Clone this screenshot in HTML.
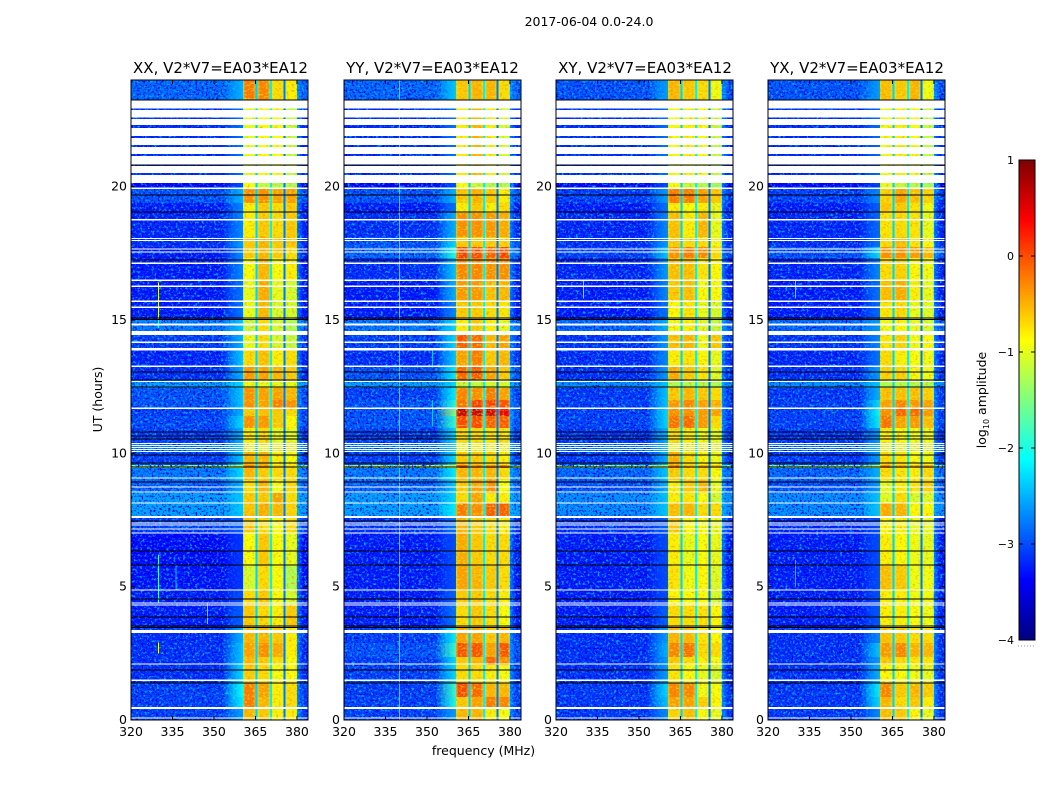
<!DOCTYPE html>
<html lang="en">
<head>
<meta charset="utf-8">
<title>2017-06-04 0.0-24.0</title>
<style>
  html, body { margin: 0; padding: 0; background: #fff; }
  svg { display: block; font-family: "DejaVu Sans", "Liberation Sans", sans-serif; }
  text { fill: #000; }
</style>
</head>
<body>
<svg id="chart" xmlns="http://www.w3.org/2000/svg" width="1050" height="800" viewBox="0 0 1050 800">
  <defs>
    <filter id="grain" x="0" y="0" width="100%" height="100%" color-interpolation-filters="sRGB">
      <feTurbulence type="fractalNoise" baseFrequency="0.42" numOctaves="2" seed="7"/>
      <feColorMatrix type="matrix" values="0 0 0 0 0  0 0 0 0 0.68  0 0 0 0 1  4.2 0 0 0 -2.1"/>
    </filter>
    <filter id="grain-dark" x="0" y="0" width="100%" height="100%" color-interpolation-filters="sRGB">
      <feTurbulence type="fractalNoise" baseFrequency="0.48" numOctaves="2" seed="23"/>
      <feColorMatrix type="matrix" values="0 0 0 0 0  0 0 0 0 0  0 0 0 0 0.85  4 0 0 0 -2.05"/>
    </filter>
    <filter id="band-grain-warm" x="0" y="0" width="100%" height="100%" color-interpolation-filters="sRGB">
      <feTurbulence type="fractalNoise" baseFrequency="0.38 0.52" numOctaves="2" seed="41"/>
      <feColorMatrix type="matrix" values="0 0 0 0 1  0 0 0 0 0.55  0 0 0 0 0  2.6 0 0 0 -1.38"/>
    </filter>
    <filter id="band-grain-cool" x="0" y="0" width="100%" height="100%" color-interpolation-filters="sRGB">
      <feTurbulence type="fractalNoise" baseFrequency="0.38 0.52" numOctaves="2" seed="59"/>
      <feColorMatrix type="matrix" values="0 0 0 0 0.8  0 0 0 0 1  0 0 0 0 0.2  2.6 0 0 0 -1.38"/>
    </filter>
    <linearGradient id="band-edge" x1="0" x2="1" y1="0" y2="0">
      <stop offset="0" stop-color="#aaff5a" stop-opacity="0.6"/>
      <stop offset="0.18" stop-color="#d8ff40" stop-opacity="0"/>
      <stop offset="0.82" stop-color="#d8ff40" stop-opacity="0"/>
      <stop offset="1" stop-color="#aaff5a" stop-opacity="0.5"/>
    </linearGradient>
    <linearGradient id="post-edge" x1="0" x2="1" y1="0" y2="0">
      <stop offset="0" stop-color="#00c8ff" stop-opacity="0.55"/>
      <stop offset="1" stop-color="#00c8ff" stop-opacity="0"/>
    </linearGradient>
    <linearGradient id="shoulder-fade" x1="0" x2="1" y1="0" y2="0">
      <stop offset="0" stop-color="#000"/>
      <stop offset="0.5" stop-color="#999"/>
      <stop offset="1" stop-color="#fff"/>
    </linearGradient>
    <mask id="shoulder-mask" maskContentUnits="objectBoundingBox" x="0" y="0" width="1" height="1">
      <rect x="0" y="0" width="1" height="1" fill="url(#shoulder-fade)"/>
    </mask>
  </defs>
  <rect x="0" y="0" width="1050" height="800" fill="#fff"/>
  <text x="589" y="26" font-size="12.5" text-anchor="middle">2017-06-04 0.0-24.0</text>

  <g id="panel-0"></g>
  <g id="panel-1"></g>
  <g id="panel-2"></g>
  <g id="panel-3"></g>

  <text x="220.5" y="73" font-size="15" text-anchor="middle">XX, V2*V7=EA03*EA12</text>
  <text x="432.5" y="73" font-size="15" text-anchor="middle">YY, V2*V7=EA03*EA12</text>
  <text x="645" y="73" font-size="15" text-anchor="middle">XY, V2*V7=EA03*EA12</text>
  <text x="857" y="73" font-size="15" text-anchor="middle">YX, V2*V7=EA03*EA12</text>

  <text transform="translate(102 399.5) rotate(-90)" font-size="12.5" text-anchor="middle">UT (hours)</text>
  <text x="483.5" y="755" font-size="12.5" text-anchor="middle">frequency (MHz)</text>

  <g id="colorbar"></g>
  <text transform="translate(986 400) rotate(-90)" font-size="12.5" text-anchor="middle">log<tspan font-size="8" dy="3">10</tspan><tspan dy="-3"> amplitude</tspan></text>
</svg>

<script>
// Panel axis limits and tick data
const xDomain = [320, 384];
const yDomain = [0, 24];
const xTicks = [320, 335, 350, 365, 380];
const yTicks = [0, 5, 10, 15, 20];
const colorDomain = [-4, 1];
const colorbarTicks = [1, 0, -1, -2, -3, -4];
const colorbarLabels = ['1', '0', '\u22121', '\u22122', '\u22123', '\u22124'];

// Frequency columns: off-band, band 1, gap, band 2, gap, band 3, gap, band 4, upper off-band
const freqEdges = [320, 360.5, 364.95, 365.75, 370.3, 371, 375.1, 375.9, 380, 384];
const shoulderStart = 353;
const gapLevels = [-2.35, -2.2, -2.8];
const offBandCalibration = -0.17;

// Time rows, top to bottom (hours)
const hourEdges = [24, 23.25, 20.14, 19.95, 19.39, 19.01, 18.11, 17.74, 17.33, 16.5, 15.75, 15, 14.44, 13.95, 13.28, 12.75, 12.45, 12, 11.7, 11.4, 10.95, 10.39, 10.05, 9.56, 9.45, 9, 8.51, 8.14, 7.58, 7.01, 5.78, 4.88, 4.31, 3.49, 2.89, 2.36, 2.06, 1.39, 0.86, 0.45, 0];

// log10 amplitude per row: [off-band, shoulder, band1, band2, band3, band4]
const valuesXX = [
  [-2.7,-2.5,-0.2,-0.25,-0.7,-0.8],[-3,-2.8,-1,-0.9,-0.9,-1.2],[-3.2,-3,-0.9,-1.2,-1.3,-1.3],[-2.8,-2.5,-0.3,-0.3,-0.4,-0.4],
  [-3.1,-2.7,-0.8,-0.6,-0.7,-0.6],[-3.05,-2.7,-0.8,-0.6,-0.7,-0.6],[-3,-2.6,-0.6,-0.5,-0.6,-0.6],[-3.1,-2.7,-0.6,-0.5,-0.6,-0.7],
  [-3.1,-2.7,-0.9,-0.5,-0.9,-0.8],[-3.1,-2.8,-1,-0.45,-1,-1.1],[-3.1,-2.8,-1,-0.5,-1.1,-1.1],[-2.6,-2.4,-1.2,-0.7,-1.1,-1.3],
  [-2.9,-2.5,-1,-0.7,-1.1,-1.2],[-3.05,-2.4,-0.7,-0.55,-0.8,-0.7],[-3,-2.5,-0.35,-0.4,-0.5,-0.6],[-2.4,-2.3,-1,-1,-1,-1],
  [-2.8,-2.4,-0.3,-0.4,-0.4,-0.5],[-2.8,-2.4,-0.3,-0.4,-0.2,-0.3],[-2.9,-2.5,-0.6,-0.55,-0.6,-0.7],[-2.85,-2.3,-0.3,-0.35,-0.6,-0.85],
  [-2.9,-2.5,-0.8,-0.7,-1,-1],[-2.5,-2.3,-1,-1,-1,-1],[-2.9,-2.4,-0.5,-0.5,-0.8,-0.9],[-1.2,-1.2,-0.2,-0.3,-0.6,-0.7],
  [-2.6,-2.3,-0.5,-0.6,-0.7,-0.7],[-2.7,-2.5,-0.7,-0.5,-0.9,-0.7],[-2.4,-2.4,-0.6,-0.6,-0.4,-0.7],[-2.4,-2.4,-0.55,-0.45,-0.5,-0.65],
  [-2.9,-2.9,-0.6,-0.7,-0.9,-0.7],[-3.2,-3.1,-0.9,-0.6,-0.9,-1],[-3.15,-3.1,-1.1,-0.7,-0.9,-1.3],[-3.1,-3,-0.7,-0.6,-0.9,-1.1],
  [-3.1,-2.9,-0.6,-0.7,-0.8,-0.6],[-3,-2.5,-0.5,-0.5,-0.6,-0.8],[-3,-2.4,-0.4,-0.3,-0.45,-0.8],[-3,-2.4,-0.5,-0.6,-0.7,-0.9],
  [-3,-2.3,-0.6,-0.7,-0.9,-0.9],[-2.9,-2.1,-0.2,-0.4,-0.8,-0.7],[-2.9,-2.2,-0.2,-0.5,-0.8,-0.7],[-2.9,-2.6,-0.5,-0.6,-0.8,-0.8]
];
const valuesYY = [
  [-2.7,-2.4,-0.6,-0.5,-0.5,-0.7],[-3,-2.8,-0.8,-0.5,-0.8,-1.1],[-3.2,-3,-0.9,-1.2,-1.3,-1.3],[-2.8,-2.5,-0.6,-0.5,-0.6,-0.8],
  [-3.1,-2.8,-0.8,-0.6,-0.8,-0.7],[-3,-2.5,-0.3,-0.3,-0.35,-0.45],[-2.8,-2.3,-0.6,-0.6,-0.6,-0.65],[-2.7,-2,0.1,0.05,-0.05,0.1],
  [-3,-2.4,-0.25,-0.25,-0.3,-0.3],[-3.1,-2.5,-0.35,-0.35,-0.55,-0.5],[-3.1,-2.7,-0.6,-0.6,-0.7,-0.75],[-2.6,-2.3,-0.8,-0.6,-0.8,-1],
  [-2.9,-2.3,0,-0.1,-0.5,-0.4],[-3,-2.4,-0.4,-0.2,-0.6,-0.5],[-2.8,-2.2,-0.1,-0.05,-0.4,-0.6],[-2.4,-2.3,-1.2,-1.2,-1.1,-1.1],
  [-2.9,-2.2,-0.25,-0.3,-0.2,-0.4],[-2.8,-2,-0.15,0.1,0.1,0],[-2.8,-1.5,0.65,0.65,0.6,0.45],[-2.8,-1.9,0.05,0.05,-0.05,-0.05],
  [-2.9,-2.3,-0.7,-0.7,-0.75,-0.75],[-2.5,-2.3,-0.9,-0.9,-0.9,-0.9],[-2.9,-2.3,-0.6,-0.6,-0.7,-0.8],[-1,-1,0,-0.2,-0.2,-0.2],
  [-2.6,-2.2,-0.5,-0.5,-0.5,-0.7],[-2.7,-2.4,-0.6,-0.4,-0.3,-0.9],[-2.4,-2.3,-0.7,-0.4,-0.8,-0.8],[-2.4,-2.2,-0.2,-0.3,-0.05,-0.05],
  [-3,-2.8,-0.5,-0.6,-0.7,-0.8],[-3.1,-3,-0.45,-0.6,-0.7,-0.7],[-3.1,-3,-0.4,-0.5,-0.6,-0.7],[-3.1,-2.9,-0.6,-0.6,-0.7,-0.8],
  [-3.1,-2.8,-0.7,-0.6,-0.7,-0.9],[-2.9,-2.2,-0.4,-0.4,-0.6,-0.5],[-2.8,-1.9,0,0,-0.4,0],[-2.9,-2.3,-0.6,-0.5,-0.1,-0.3],
  [-2.9,-2.3,-0.7,-0.7,-0.8,-0.9],[-2.9,-1.9,0.05,-0.1,-0.5,-0.5],[-2.9,-2,-0.6,-0.4,-0.2,-0.25],[-2.9,-2.6,-0.5,-0.5,-0.8,-0.9]
];
const valuesXY = [
  [-2.8,-2.6,-0.5,-0.6,-0.7,-0.95],[-3,-2.8,-0.9,-0.8,-0.9,-1.2],[-3.2,-3,-0.9,-1.2,-1.3,-1.4],[-2.9,-2.6,-0.2,-0.2,-0.4,-0.6],
  [-3.1,-2.8,-0.8,-0.9,-0.8,-1],[-3.05,-2.7,-0.55,-0.8,-0.5,-1],[-3,-2.6,-0.6,-0.7,-0.7,-0.95],[-2.9,-2.4,-0.3,-0.2,-0.25,-0.7],
  [-3.05,-2.6,-0.55,-0.55,-0.75,-0.85],[-3.1,-2.7,-0.6,-0.55,-0.9,-0.9],[-3.1,-2.8,-0.85,-0.75,-1,-1.1],[-2.7,-2.5,-0.95,-0.8,-1.05,-1.2],
  [-2.95,-2.6,-0.55,-0.5,-0.95,-0.6],[-3,-2.7,-0.8,-0.75,-0.85,-1],[-3,-2.6,-0.45,-0.6,-0.75,-1.05],[-2.5,-2.4,-1.3,-1.3,-1.3,-1.3],
  [-2.95,-2.4,-0.6,-0.5,-0.6,-0.7],[-2.9,-2.4,-0.35,-0.25,-0.4,-0.5],[-2.9,-2.3,-0.3,-0.3,-0.35,-0.4],[-2.9,-2.3,-0.15,-0.1,-0.35,-0.7],
  [-2.95,-2.5,-0.7,-0.8,-0.95,-1],[-2.6,-2.4,-0.95,-1,-1,-1.05],[-2.95,-2.5,-0.45,-0.7,-0.85,-0.95],[-1.2,-1.2,-0.2,-0.5,-0.4,-0.5],
  [-2.7,-2.4,-0.6,-0.7,-0.7,-0.9],[-2.8,-2.5,-0.8,-0.6,-0.5,-1],[-2.5,-2.4,-0.8,-0.75,-0.9,-1.15],[-2.5,-2.4,-0.55,-0.5,-0.7,-0.7],
  [-3,-2.9,-0.6,-0.85,-0.9,-1],[-3.1,-3,-0.8,-1,-0.9,-1],[-3.1,-3,-0.75,-0.95,-0.85,-1.05],[-3.1,-3,-0.85,-0.9,-0.9,-1.1],
  [-3.1,-2.9,-0.7,-0.7,-0.75,-0.85],[-3,-2.6,-0.5,-0.5,-0.75,-0.85],[-3,-2.5,-0.25,-0.15,-0.7,-0.7],[-3,-2.6,-0.6,-0.7,-0.8,-0.95],
  [-3,-2.6,-0.75,-0.9,-1,-1.1],[-2.95,-2.3,-0.25,-0.25,-0.95,-0.9],[-2.95,-2.4,-0.4,-0.4,-0.65,-0.85],[-2.95,-2.7,-0.65,-0.55,-0.9,-1]
];
const valuesYX = [
  [-2.8,-2.6,-0.55,-0.6,-0.5,-0.95],[-3,-2.85,-0.95,-0.8,-0.9,-1.2],[-3.2,-3.05,-1,-1.2,-1.3,-1.4],[-2.9,-2.7,-0.65,-0.4,-0.55,-0.65],
  [-3.1,-2.9,-0.6,-0.6,-0.75,-0.95],[-3.05,-2.85,-0.75,-0.7,-0.75,-1],[-3,-2.8,-0.7,-0.55,-0.75,-0.9],[-2.8,-2.3,-0.3,-0.3,-0.35,-0.5],
  [-3.05,-2.7,-0.7,-0.65,-0.85,-0.95],[-3.1,-2.8,-0.55,-0.45,-0.8,-1],[-3.1,-2.85,-0.75,-0.7,-1,-1.05],[-2.7,-2.6,-0.95,-0.85,-1,-1.1],
  [-2.95,-2.7,-0.75,-0.65,-0.95,-0.85],[-3.05,-2.8,-0.7,-0.8,-0.9,-0.95],[-3,-2.6,-0.65,-0.65,-0.85,-0.95],[-2.5,-2.4,-1.3,-1.3,-1.3,-1.3],
  [-2.95,-2.5,-0.55,-0.55,-0.55,-0.65],[-2.9,-2.3,-0.4,-0.25,-0.35,-0.4],[-2.9,-2.1,-0.3,-0.1,-0.1,-0.35],[-2.9,-2.2,-0.15,-0.4,-0.35,-0.55],
  [-2.95,-2.6,-0.8,-0.85,-0.95,-0.95],[-2.6,-2.4,-1,-1,-1.05,-1.05],[-2.95,-2.6,-0.7,-0.75,-0.9,-0.95],[-1.2,-1.2,-0.2,-0.4,-0.4,-0.4],
  [-2.7,-2.5,-0.7,-0.75,-0.8,-0.7],[-2.8,-2.6,-1,-0.8,-0.75,-0.65],[-2.5,-2.4,-1.05,-0.7,-1.1,-1.05],[-2.5,-2.4,-0.45,-0.5,-0.85,-0.85],
  [-3.05,-3,-0.85,-0.8,-1,-1],[-3.1,-3,-0.8,-0.85,-0.95,-1],[-3.1,-3,-0.55,-0.6,-0.95,-0.95],[-3.1,-3,-0.8,-0.8,-0.95,-0.95],
  [-3.1,-2.95,-0.8,-0.8,-0.9,-0.95],[-3,-2.7,-0.55,-0.6,-0.7,-0.7],[-3,-2.4,-0.35,-0.25,-0.5,-0.5],[-3,-2.6,-0.6,-0.7,-0.75,-0.75],
  [-3,-2.5,-0.85,-0.9,-0.95,-1],[-2.95,-2.2,-0.25,-0.6,-0.5,-0.6],[-2.95,-2.3,-0.5,-0.7,-0.6,-0.8],[-2.95,-2.7,-0.55,-0.6,-0.85,-1]
];

// Narrow interference spurs per panel: [MHz, start hour, end hour, log10 amplitude]
const spursXX = [[329.8,16.4,15.0,-1.0],[329.8,15.0,14.7,-2.0],[329.8,6.2,4.4,-1.9],[329.8,2.9,2.5,-0.9],[336,5.8,4.9,-2.4],[347.4,4.4,3.6,-1.9]];
const spursYY = [[339.9,24,0,-2.2],[351.9,13.9,13.3,-2.4],[351.9,12,11,-2.4]];
const spursXY = [[329.8,16.5,15.8,-1.7]];
const spursYX = [[329.8,16.5,15.8,-2.1],[329.8,6,5,-2.4]];

// Flagged (blank) time spans in hours
const blankSpans = [
  [23.23,22.93],[22.88,22.59],[22.54,22.31],[22.20,21.90],[21.83,21.56],[21.49,21.23],[21.15,20.83],[20.78,20.51],[20.44,20.14],
  [19.97,19.91],[18.79,18.73],[18.08,18.03],[18.00,17.96],[17.68,17.64],[17.57,17.53],[17.16,17.10],[16.52,16.46],[16.29,16.24],
  [15.73,15.68],[15.51,15.45],[14.87,14.79],[14.59,14.44],[14.19,14.14],[13.95,13.86],[13.29,13.24],[12.71,12.68],[11.72,11.66],
  [10.39,10.35],[10.31,10.27],[10.24,10.20],[10.16,10.12],[10.09,10.05],[9.09,9.05],[8.76,8.72],[8.57,8.53],[8.16,8.12],[7.65,7.57],
  [7.41,7.37],[7.33,7.29],[7.18,7.14],[7.03,6.99],[4.89,4.85],[4.41,4.37],[4.33,4.29],[3.37,3.26],[2.12,2.08],[1.52,1.46],[0.48,0.42],[0.10,0.06]
];
// Below-range (black) time lines in hours
const blackLines = [23.25,20.81,19.69,19.05,17.25,15.07,15.02,13.05,12.75,12.49,10.8,10.65,10.54,9.94,9.64,9.49,8.93,7.46,6.34,5.81,4.54,3.86,3.52,3.47,1.87,1.39];

const panelLefts = [131, 344, 556, 768];
const panelValues = [valuesXX, valuesYY, valuesXY, valuesYX];
const panelSpurs = [spursXX, spursYY, spursXY, spursYX];
const panelKeys = ['xx', 'yy', 'xy', 'yx'];
const panelWidth = 177;
const panelTop = 80;
const panelHeight = 640;
const NS = 'http://www.w3.org/2000/svg';

function jet(v) {
  const t = Math.min(1, Math.max(0, (v - colorDomain[0]) / (colorDomain[1] - colorDomain[0])));
  const ramp = (c) => Math.round(255 * Math.min(1, Math.max(0, 1.5 - Math.abs(4 * t - c))));
  return 'rgb(' + ramp(3) + ',' + ramp(2) + ',' + ramp(1) + ')';
}
function yScale(h) {
  return panelTop + panelHeight * (yDomain[1] - h) / (yDomain[1] - yDomain[0]);
}
function xScaleFor(left) {
  return (f) => left + panelWidth * (f - xDomain[0]) / (xDomain[1] - xDomain[0]);
}
function rowColumnValue(row, col) {
  if (col === 0 || col === 8) return row[0] + offBandCalibration;
  if (col === 1) return row[2];
  if (col === 2) return gapLevels[0];
  if (col === 3) return row[3];
  if (col === 4) return gapLevels[1];
  if (col === 5) return row[4];
  if (col === 6) return gapLevels[2];
  return row[5];
}
function makeEl(tag, attrs) {
  const el = document.createElementNS(NS, tag);
  for (const k in attrs) el.setAttribute(k, attrs[k]);
  return el;
}

panelLefts.forEach((left, p) => {
  const g = document.getElementById('panel-' + p);
  const x = xScaleFor(left);
  const values = panelValues[p];

  const cells = makeEl('g', { 'shape-rendering': 'crispEdges' });
  
  
  g.appendChild(cells);

  values.forEach((row, r) => {
    for (let c = 0; c < freqEdges.length - 1; c++) {
      const y0 = yScale(hourEdges[r]);
      const y1 = yScale(hourEdges[r + 1]);
      const x0 = x(freqEdges[c]);
      const x1 = x(freqEdges[c + 1]);
      const cell = makeEl('rect', { x: x0, y: y0, width: x1 - x0, height: y1 - y0, fill: jet(rowColumnValue(row, c)) });
      
      
      cells.appendChild(cell);
    }
  });

  // Channel-level speckle on the off-band regions
  [[freqEdges[0], freqEdges[1]], [freqEdges[8], freqEdges[9]]].forEach((span) => {
    const lit = makeEl('rect', { x: x(span[0]), y: panelTop, width: x(span[1]) - x(span[0]), height: panelHeight, filter: 'url(#grain)' });
    
    
    g.appendChild(lit);
    const dark = makeEl('rect', { x: x(span[0]), y: panelTop, width: x(span[1]) - x(span[0]), height: panelHeight, filter: 'url(#grain-dark)' });
    
    
    g.appendChild(dark);
  });

  // Shoulder glow below the first band, fading into the off-band level
  const shoulder = makeEl('g', { mask: 'url(#shoulder-mask)' });
  
  
  g.appendChild(shoulder);
  values.forEach((row, r) => {
    const y0 = yScale(hourEdges[r]);
    const y1 = yScale(hourEdges[r + 1]);
    const cell = makeEl('rect', { x: x(shoulderStart), y: y0, width: x(freqEdges[1]) - x(shoulderStart), height: y1 - y0, fill: jet(row[1]), 'shape-rendering': 'crispEdges' });
    
    
    shoulder.appendChild(cell);
  });

  const postGlow = makeEl('rect', { x: x(freqEdges[8]), y: panelTop, width: x(382.2) - x(freqEdges[8]), height: panelHeight, fill: 'url(#post-edge)' });
  
  
  g.appendChild(postGlow);

  // Texture and roll-off across each of the four bands
  [1, 3, 5, 7].forEach((c) => {
    const bx = x(freqEdges[c]);
    const bw = x(freqEdges[c + 1]) - bx;
    const warm = makeEl('rect', { x: bx, y: panelTop, width: bw, height: panelHeight, filter: 'url(#band-grain-warm)' });
    
    
    g.appendChild(warm);
    const cool = makeEl('rect', { x: bx, y: panelTop, width: bw, height: panelHeight, filter: 'url(#band-grain-cool)' });
    
    
    g.appendChild(cool);
    const edge = makeEl('rect', { x: bx, y: panelTop, width: bw, height: panelHeight, fill: 'url(#band-edge)' });
    
    
    g.appendChild(edge);
  });

  panelSpurs[p].forEach((s) => {
    const spur = makeEl('rect', { x: x(s[0]), y: yScale(s[1]), width: 1, height: yScale(s[2]) - yScale(s[1]), fill: jet(s[3]), 'shape-rendering': 'crispEdges' });
    
    
    g.appendChild(spur);
  });

  blankSpans.forEach((s) => {
    const blank = makeEl('rect', { x: left, y: yScale(s[0]), width: panelWidth, height: yScale(s[1]) - yScale(s[0]), fill: '#fff', 'shape-rendering': 'crispEdges' });
    
    
    g.appendChild(blank);
  });

  blackLines.forEach((h) => {
    const line = makeEl('rect', { x: left, y: yScale(h) - 0.5, width: panelWidth, height: 1, fill: '#000', 'shape-rendering': 'crispEdges' });
    
    
    g.appendChild(line);
  });

  const frame = makeEl('rect', { x: left, y: panelTop, width: panelWidth, height: panelHeight, fill: 'none', stroke: '#000', 'stroke-width': 1 });
  
  
  g.appendChild(frame);

  xTicks.forEach((t) => {
    const tx = x(t);
    const bottom = makeEl('line', { x1: tx, x2: tx, y1: panelTop + panelHeight, y2: panelTop + panelHeight - 4, stroke: '#000' });
    
    
    g.appendChild(bottom);
    const top = makeEl('line', { x1: tx, x2: tx, y1: panelTop, y2: panelTop + 4, stroke: '#000' });
    
    
    g.appendChild(top);
    const label = makeEl('text', { x: tx, y: 736, 'font-size': 12.5, 'text-anchor': 'middle' });
    
    
    label.textContent = String(t);
    g.appendChild(label);
  });

  yTicks.forEach((t) => {
    const ty = yScale(t);
    const leftTick = makeEl('line', { x1: left, x2: left + 4, y1: ty, y2: ty, stroke: '#000' });
    
    
    g.appendChild(leftTick);
    const rightTick = makeEl('line', { x1: left + panelWidth, x2: left + panelWidth - 4, y1: ty, y2: ty, stroke: '#000' });
    
    
    g.appendChild(rightTick);
    const label = makeEl('text', { x: left - 4, y: ty + 4, 'font-size': 12.5, 'text-anchor': 'end' });
    
    
    label.textContent = String(t);
    g.appendChild(label);
  });
});

// Colorbar
const cbLeft = 1019;
const cbWidth = 16;
const cbTop = 160;
const cbHeight = 480;
const cbSteps = 256;
function cbY(v) {
  return cbTop + cbHeight * (colorDomain[1] - v) / (colorDomain[1] - colorDomain[0]);
}
const cb = document.getElementById('colorbar');
for (let i = 0; i < cbSteps; i++) {
  const v0 = colorDomain[1] - (colorDomain[1] - colorDomain[0]) * i / cbSteps;
  const v1 = colorDomain[1] - (colorDomain[1] - colorDomain[0]) * (i + 1) / cbSteps;
  const seg = makeEl('rect', { x: cbLeft, y: cbY(v0), width: cbWidth, height: cbY(v1) - cbY(v0) + 0.5, fill: jet((v0 + v1) / 2), 'shape-rendering': 'crispEdges' });
  
  
  cb.appendChild(seg);
}
const cbFrame = makeEl('rect', { x: cbLeft, y: cbTop, width: cbWidth, height: cbHeight, fill: 'none', stroke: '#000' });


cb.appendChild(cbFrame);
colorbarTicks.forEach((v, i) => {
  const y = cbY(v);
  const l = makeEl('line', { x1: cbLeft, x2: cbLeft + 4, y1: y, y2: y, stroke: '#000' });
  
  
  cb.appendChild(l);
  const r = makeEl('line', { x1: cbLeft + cbWidth, x2: cbLeft + cbWidth - 4, y1: y, y2: y, stroke: '#000' });
  
  
  cb.appendChild(r);
  const t = makeEl('text', { x: cbLeft - 5, y: y + 4, 'font-size': 11, 'text-anchor': 'end' });
  
  
  t.textContent = colorbarLabels[i];
  cb.appendChild(t);
});
const cbDots = makeEl('line', { x1: 1018, x2: 1035, y1: 646, y2: 646, stroke: '#999', 'stroke-width': 1, 'stroke-dasharray': '1 2' });


cb.appendChild(cbDots);
</script>
</body>
</html>
